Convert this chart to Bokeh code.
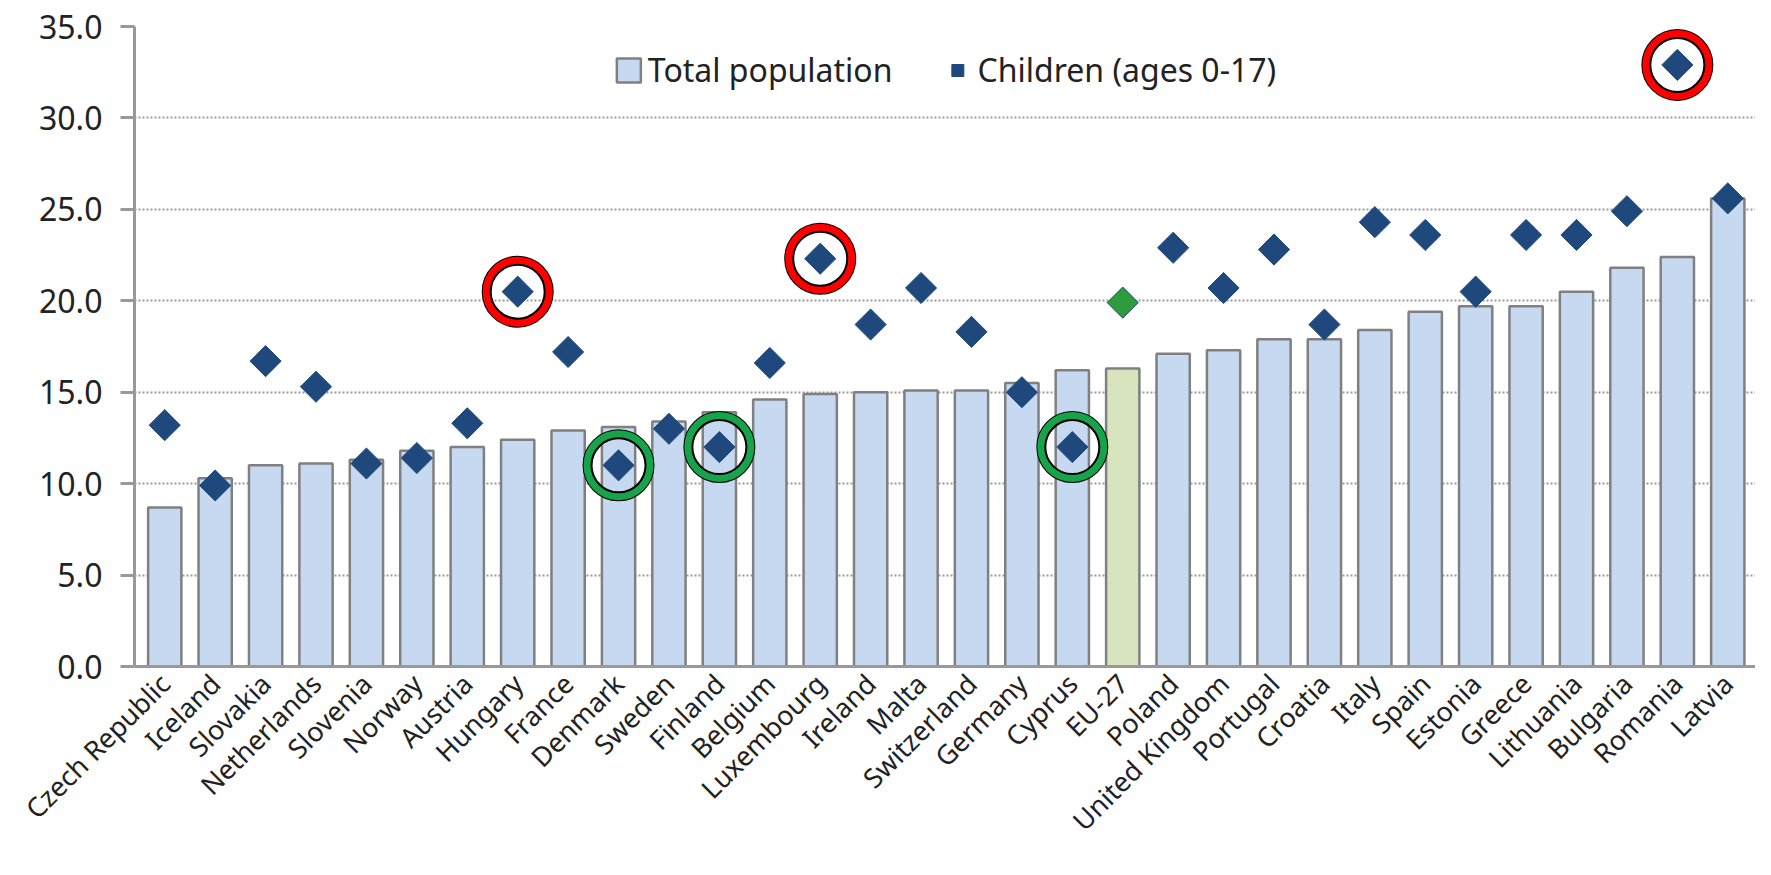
import math
from bokeh.plotting import figure
from bokeh.models import ColumnDataSource, FixedTicker, NumeralTickFormatter, Range1d, Legend, LegendItem
from bokeh.embed import file_html
from bokeh.resources import INLINE

countries = ["Czech Republic", "Iceland", "Slovakia", "Netherlands", "Slovenia", "Norway", "Austria",
             "Hungary", "France", "Denmark", "Sweden", "Finland", "Belgium", "Luxembourg", "Ireland",
             "Malta", "Switzerland", "Germany", "Cyprus", "EU-27", "Poland", "United Kingdom", "Portugal",
             "Croatia", "Italy", "Spain", "Estonia", "Greece", "Lithuania", "Bulgaria", "Romania", "Latvia"]
total = [8.7, 10.3, 11.0, 11.1, 11.3, 11.8, 12.0, 12.4, 12.9, 13.1, 13.4, 13.9, 14.6, 14.9, 15.0,
         15.1, 15.1, 15.5, 16.2, 16.3, 17.1, 17.3, 17.9, 17.9, 18.4, 19.4, 19.7, 19.7, 20.5, 21.8, 22.4, 25.6]
children = [13.2, 9.9, 16.7, 15.3, 11.1, 11.4, 13.3, 20.5, 17.2, 11.0, 13.0, 12.0, 16.6, 22.3, 18.7,
            20.7, 18.3, 15.0, 12.0, 19.9, 22.9, 20.7, 22.8, 18.7, 24.3, 23.6, 20.5, 23.6, 23.6, 24.9, 32.9, 25.6]
red_marks = ["Hungary", "Luxembourg", "Romania"]
green_marks = ["Denmark", "Finland", "Cyprus"]

font = "Noto Sans"
xs = list(range(len(countries)))
bar_fill = ["#D7E4BD" if c == "EU-27" else "#C6D9F1" for c in countries]
dia_fill = ["#2E9B3E" if c == "EU-27" else "#1F497D" for c in countries]
src = ColumnDataSource(dict(x=xs, total=total, children=children, bar_fill=bar_fill, dia_fill=dia_fill))

p = figure(frame_width=1621, frame_height=640, output_backend="svg", toolbar_location=None,
           x_range=Range1d(-0.6, len(countries) - 0.45), y_range=Range1d(0, 35),
           min_border_left=134, min_border_right=0, min_border_top=26, min_border_bottom=10)
p.outline_line_color = None
p.background_fill_color = "white"

bars = p.vbar(x="x", top="total", width=0.66, source=src, fill_color="bar_fill",
              line_color="#808080", line_width=2.5)
dias = p.scatter(x="x", y="children", source=src, marker="square", angle=math.pi / 4, size=22,
                 fill_color="dia_fill", line_color="#1F497D", line_width=1)

def ring(names, color):
    ix = [countries.index(n) for n in names]
    vy = [children[i] for i in ix]
    p.scatter(ix, vy, marker="circle", size=70, fill_color=None, line_color="black", line_width=2)
    p.scatter(ix, vy, marker="circle", size=62, fill_color=None, line_color=color, line_width=8)
    p.scatter(ix, vy, marker="circle", size=54, fill_color=None, line_color="black", line_width=2)

ring(red_marks, "#FF0000")
ring(green_marks, "#16A34A")

p.yaxis.ticker = FixedTicker(ticks=[0, 5, 10, 15, 20, 25, 30, 35])
p.yaxis.formatter = NumeralTickFormatter(format="0.0")
p.yaxis.major_label_text_font = font
p.yaxis.major_label_text_font_size = "32px"
p.yaxis.major_label_text_color = "#222222"
p.yaxis.axis_line_color = "#999999"
p.yaxis.axis_line_width = 3
p.yaxis.major_tick_line_color = "#999999"
p.yaxis.major_tick_line_width = 3
p.yaxis.major_tick_out = 14
p.yaxis.major_tick_in = 0
p.yaxis.minor_tick_line_color = None
p.yaxis.major_label_standoff = 18

p.xaxis.ticker = FixedTicker(ticks=xs)
p.xaxis.major_label_overrides = {i: c for i, c in enumerate(countries)}
p.xaxis.major_label_orientation = math.pi / 4
p.xaxis.major_label_text_font = font
p.xaxis.major_label_text_font_size = "27px"
p.xaxis.major_label_text_color = "#222222"
p.xaxis.axis_line_color = "#999999"
p.xaxis.axis_line_width = 3
p.xaxis.major_tick_line_color = None
p.xaxis.minor_tick_line_color = None
p.xaxis.major_label_standoff = 6

p.xgrid.grid_line_color = None
p.ygrid.grid_line_color = "#999999"
p.ygrid.grid_line_dash = "2 2"
p.ygrid.grid_line_width = 2

legend = Legend(items=[LegendItem(label="Total population", renderers=[bars]),
                       LegendItem(label="Children (ages 0-17)", renderers=[dias])],
                location="top_center", orientation="horizontal", border_line_color=None,
                background_fill_alpha=0, label_text_font=font, label_text_font_size="32px",
                label_text_color="#222222", glyph_width=30, glyph_height=30, spacing=50,
                margin=22)
p.add_layout(legend)

open("out.html", "w").write(file_html(p, INLINE))
